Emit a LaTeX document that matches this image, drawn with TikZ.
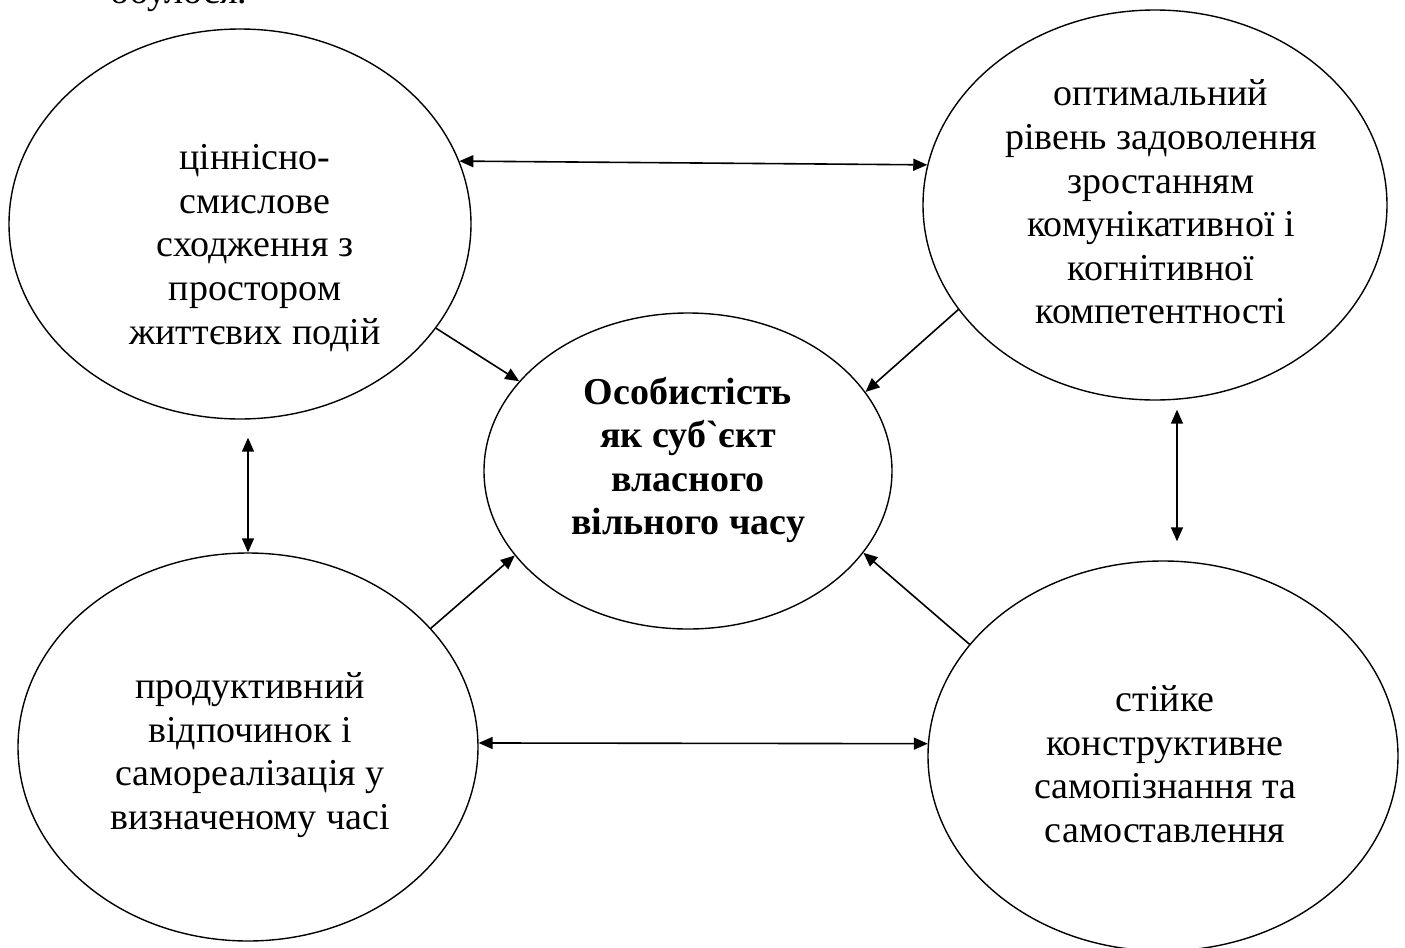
\documentclass[tikz,border=0pt]{standalone}
\usepackage{fontspec}
\setmainfont{Liberation Serif}
\newfontfamily\plainserif{Liberation Serif}
\usetikzlibrary{shapes.geometric}
\usetikzlibrary{arrows.meta}

\tikzset{
	bubble/.style={draw,ellipse,line width=0.7pt,inner sep=0pt},
	txt/.style={align=center,inner sep=0pt,font=\fontsize{19}{21.8}\selectfont},
	link/.style={-{Triangle[length=7pt,width=6pt]},line width=0.8pt},
	twoway/.style={{Triangle[length=7pt,width=6pt]}-{Triangle[length=7pt,width=6pt]},line width=0.8pt}
}

\begin{document}
\begin{tikzpicture}[x=0.5pt,y=-0.5pt]
	\clip (0,0) rectangle (1405,948);
	\node[txt,anchor=base west] (prev) at (110,3) {обулося.};
	% ovals
	\node[bubble,minimum width=231pt,minimum height=195pt] (tl) at (240,224) {};
	\node[bubble,minimum width=232pt,minimum height=195pt] (tr) at (1155,205) {};
	\node[bubble,minimum width=204pt,minimum height=158pt] (c) at (688,471) {};
	\node[bubble,minimum width=230pt,minimum height=194pt] (bl) at (248,747) {};
	\node[bubble,minimum width=235pt,minimum height=195pt] (br) at (1163,756) {};
	% texts
	\node[txt] (tltext) at (255,248) {ціннісно-\\смислове\\сходження з\\простором\\життєвих подій};
	\node[txt] (trtext) at (1161,202) {оптимальний\\рівень задоволення\\зростанням\\комунікативної і\\когнітивної\\компетентності};
	\node[txt,font=\fontsize{19}{21.8}\selectfont\bfseries] (ctext) at (688,460) {Особистість\\як суб{\plainserif\bfseries `}єкт\\власного\\вільного часу};
	\node[txt] (bltext) at (250,755) {продуктивний\\відпочинок і\\самореалізація у\\визначеному часі};
	\node[txt] (brtext) at (1165,764) {стійке\\конструктивне\\самопізнання та\\самоставлення};
	% arrows
	\foreach \a/\b in {tl.-28/c.152,tr.-152/c.24,bl.33/c.-154,br.150/c.-25}
		{\draw[link] (\a) -- (\b);};
	\draw[twoway] (tl.16) -- (tr.170);
	\draw[twoway] (bl.1) -- (br.177);
	\draw[twoway,shorten <=9pt] (tl.south -| bl.north) -- (bl.north);
	\draw[twoway,shorten <=4.5pt,shorten >=9.5pt] ([xshift=11pt]tr.south) -- ([xshift=11pt]tr.south |- br.north);
\end{tikzpicture}
\end{document}
